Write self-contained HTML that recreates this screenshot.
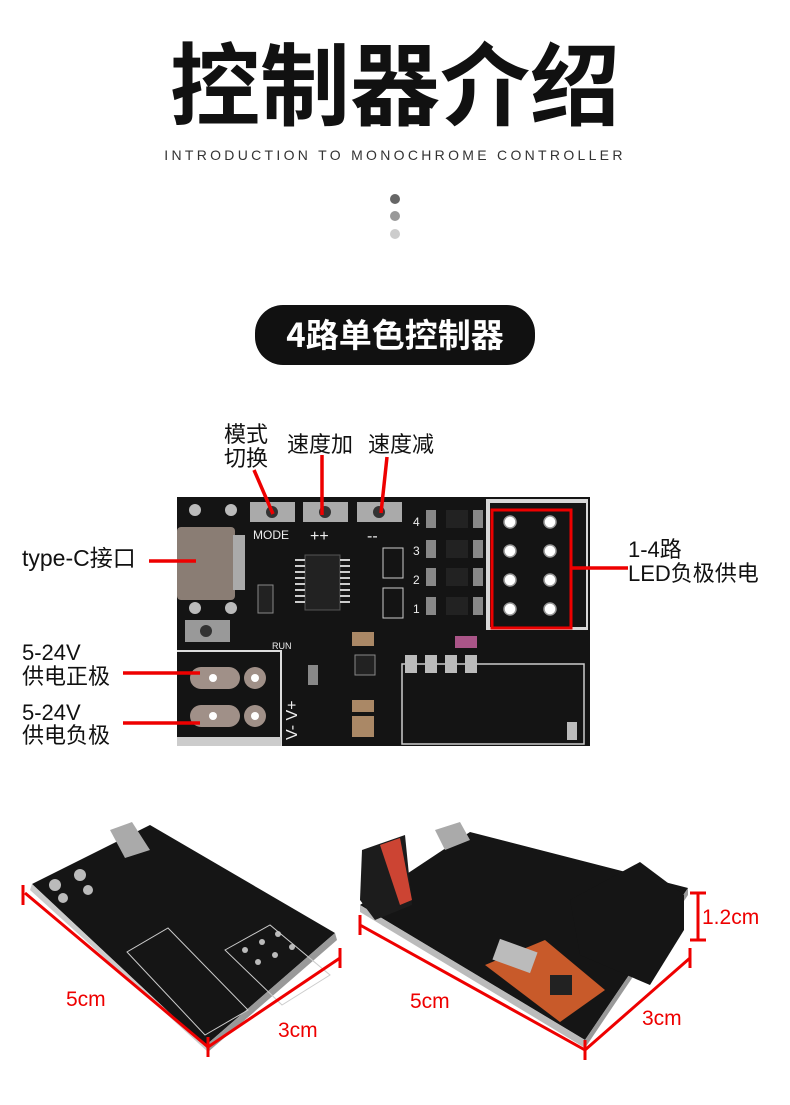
<!DOCTYPE html>
<html><head><meta charset="utf-8"><style>
html,body{margin:0;padding:0;background:#fff;}
svg{display:block;}
text{font-family:"Liberation Sans","Noto Sans CJK SC",sans-serif;}
</style></head><body>
<svg width="790" height="1105" viewBox="0 0 790 1105" xmlns="http://www.w3.org/2000/svg">
<rect width="790" height="1105" fill="#fff"/>
<text x="395" y="118" text-anchor="middle" font-size="90" font-weight="bold" fill="#111" style="font-family:'Noto Sans CJK SC',sans-serif">控制器介绍</text>
<text x="395" y="160" text-anchor="middle" font-size="14" fill="#333" letter-spacing="3.3">INTRODUCTION TO MONOCHROME CONTROLLER</text>
<circle cx="395" cy="199" r="5" fill="#666"/>
<circle cx="395" cy="216" r="5" fill="#999"/>
<circle cx="395" cy="234" r="5" fill="#ccc"/>
<rect x="255" y="305" width="280" height="60" rx="28" fill="#111"/>
<text x="395" y="347" text-anchor="middle" font-size="33" font-weight="bold" fill="#fff" style="font-family:'Noto Sans CJK SC',sans-serif">4路单色控制器</text>

<!-- labels -->
<g font-size="22" fill="#111">
<text x="224" y="442">模式</text><text x="224" y="466">切换</text>
<text x="287" y="452">速度加</text><text x="368" y="452">速度减</text>
<text x="22" y="566" font-size="23">type-C接口</text>
<text x="22" y="660">5-24V</text><text x="22" y="684">供电正极</text>
<text x="22" y="720">5-24V</text><text x="22" y="743">供电负极</text>
<text x="628" y="557">1-4路</text><text x="628" y="581">LED负极供电</text>
</g>

<!-- PCB -->
<rect x="177" y="497" width="413" height="249" fill="#141414"/>
<rect x="486" y="499" width="102" height="131" fill="#d8d8d8"/>
<rect x="490" y="503" width="96" height="124" fill="#141414"/>
<path d="M177 651 H281 V746" stroke="#ddd" stroke-width="2" fill="none"/>
<rect x="177" y="737" width="104" height="9" fill="#ccc"/>
<rect x="402" y="664" width="182" height="80" fill="none" stroke="#ccc" stroke-width="1.5"/>
<rect x="177" y="527" width="58" height="73" fill="#8a7d74" rx="4"/>
<rect x="233" y="535" width="12" height="55" fill="#aaa"/>
<circle cx="195" cy="510" r="6" fill="#bbb"/><circle cx="231" cy="510" r="6" fill="#bbb"/>
<circle cx="195" cy="608" r="6" fill="#bbb"/><circle cx="231" cy="608" r="6" fill="#bbb"/>
<rect x="185" y="620" width="45" height="22" fill="#999"/><circle cx="206" cy="631" r="6" fill="#333"/>
<rect x="250" y="502" width="45" height="20" fill="#aaa"/><circle cx="272" cy="512" r="6" fill="#333"/>
<rect x="303" y="502" width="45" height="20" fill="#aaa"/><circle cx="325" cy="512" r="6" fill="#333"/>
<rect x="357" y="502" width="45" height="20" fill="#aaa"/><circle cx="379" cy="512" r="6" fill="#333"/>
<g fill="#eee" font-size="12"><text x="253" y="539">MODE</text><text x="310" y="541" font-size="16">++</text><text x="367" y="541" font-size="16">--</text>
<text x="413" y="526" font-size="12">4</text><text x="413" y="555">3</text><text x="413" y="584">2</text><text x="413" y="613">1</text>
<text x="272" y="649" font-size="9">RUN</text></g>
<rect x="305" y="555" width="35" height="55" fill="#222" stroke="#555"/>
<g stroke="#ccc" stroke-width="2">
<path d="M295 560h10M295 566h10M295 572h10M295 578h10M295 584h10M295 590h10M295 596h10M295 602h10M340 560h10M340 566h10M340 572h10M340 578h10M340 584h10M340 590h10M340 596h10M340 602h10"/></g>
<g fill="#888">
<rect x="426" y="510" width="10" height="18"/><rect x="426" y="540" width="10" height="18"/><rect x="426" y="568" width="10" height="18"/><rect x="426" y="597" width="10" height="18"/>
<rect x="446" y="510" width="22" height="18" fill="#222"/><rect x="446" y="540" width="22" height="18" fill="#222"/><rect x="446" y="568" width="22" height="18" fill="#222"/><rect x="446" y="597" width="22" height="18" fill="#222"/>
<rect x="473" y="510" width="10" height="18"/><rect x="473" y="540" width="10" height="18"/><rect x="473" y="568" width="10" height="18"/><rect x="473" y="597" width="10" height="18"/>
<rect x="383" y="548" width="20" height="30" fill="none" stroke="#ccc"/><rect x="383" y="588" width="20" height="30" fill="none" stroke="#ccc"/>
<rect x="405" y="655" width="12" height="18" fill="#bbb"/><rect x="425" y="655" width="12" height="18" fill="#bbb"/><rect x="445" y="655" width="12" height="18" fill="#bbb"/><rect x="465" y="655" width="12" height="18" fill="#bbb"/>
<rect x="455" y="636" width="22" height="12" fill="#a58"/>
<rect x="352" y="632" width="22" height="14" fill="#a86"/><rect x="352" y="700" width="22" height="12" fill="#a86"/><rect x="352" y="716" width="22" height="12" fill="#a86"/><rect x="352" y="725" width="22" height="12" fill="#a86"/>
<rect x="355" y="655" width="20" height="20" fill="#222" stroke="#888"/>
<rect x="308" y="665" width="10" height="20"/><rect x="258" y="585" width="15" height="28" fill="#222" stroke="#888"/>
<rect x="567" y="722" width="10" height="18" fill="#bbb"/>
</g>
<g fill="#a09088"><rect x="190" y="667" width="50" height="22" rx="11"/><rect x="190" y="705" width="50" height="22" rx="11"/><circle cx="255" cy="678" r="11"/><circle cx="255" cy="716" r="11"/></g>
<g fill="#fff"><circle cx="213" cy="678" r="4"/><circle cx="213" cy="716" r="4"/><circle cx="255" cy="678" r="4"/><circle cx="255" cy="716" r="4"/></g>
<text x="0" y="0" transform="translate(297,740) rotate(-90)" fill="#eee" font-size="16">V-  V+</text>
<g fill="#fff" stroke="#999" stroke-width="1.5">
<circle cx="510" cy="522" r="6"/><circle cx="550" cy="522" r="6"/>
<circle cx="510" cy="551" r="6"/><circle cx="550" cy="551" r="6"/>
<circle cx="510" cy="580" r="6"/><circle cx="550" cy="580" r="6"/>
<circle cx="510" cy="609" r="6"/><circle cx="550" cy="609" r="6"/>
</g>
<rect x="492" y="510" width="79" height="118" fill="none" stroke="#e00" stroke-width="3"/>

<g stroke="#e00" stroke-width="3.5">
<line x1="254" y1="470" x2="273" y2="514"/>
<line x1="322" y1="455" x2="322" y2="515"/>
<line x1="387" y1="457" x2="381" y2="513"/>
<line x1="149" y1="561" x2="196" y2="561"/>
<line x1="123" y1="673" x2="200" y2="673"/>
<line x1="123" y1="723" x2="200" y2="723"/>
<line x1="571" y1="568" x2="628" y2="568"/>
</g>

<!-- bottom left board -->
<polygon points="32,884 150,825 335,933 205,1046" fill="#151515"/>
<polygon points="32,884 205,1046 208,1052 30,890" fill="#ccc"/>
<polygon points="205,1046 335,933 337,940 208,1052" fill="#999"/>
<polygon points="110,830 132,822 150,850 125,858" fill="#aaa"/>
<g fill="#bbb"><circle cx="55" cy="885" r="6"/><circle cx="80" cy="875" r="6"/><circle cx="63" cy="898" r="5"/><circle cx="88" cy="890" r="5"/>
<circle cx="245" cy="950" r="3"/><circle cx="262" cy="942" r="3"/><circle cx="278" cy="934" r="3"/><circle cx="258" cy="962" r="3"/><circle cx="275" cy="955" r="3"/><circle cx="292" cy="947" r="3"/></g>
<polygon points="127,952 168,928 248,1010 205,1035" fill="none" stroke="#ccc"/>
<polygon points="225,950 270,925 330,975 282,1005" fill="none" stroke="#ccc"/>
<!-- bottom right board -->
<polygon points="360,905 470,832 688,888 585,1040" fill="#151515"/>
<polygon points="360,905 585,1040 585,1048 360,912" fill="#bbb"/>
<polygon points="585,1040 688,888 688,895 585,1048" fill="#999"/>
<polygon points="362,850 405,835 412,905 375,920 360,900" fill="#1c1c1c"/>
<polygon points="380,845 400,838 412,900 400,905" fill="#c43"/>
<polygon points="435,830 460,822 470,840 445,850" fill="#aaa"/>
<polygon points="570,900 640,862 684,895 684,930 650,985 580,955" fill="#151515"/>
<polygon points="485,965 545,940 605,990 560,1022" fill="#c85a2a"/>
<rect x="495" y="945" width="40" height="22" fill="#bbb" transform="rotate(20 515 956)"/>
<rect x="550" y="975" width="22" height="20" fill="#222"/>

<g stroke="#e00" stroke-width="3" fill="none">
<line x1="25" y1="893" x2="208" y2="1047"/>
<line x1="208" y1="1047" x2="340" y2="958"/>
<line x1="23" y1="885" x2="23" y2="905"/>
<line x1="208" y1="1037" x2="208" y2="1057"/>
<line x1="340" y1="948" x2="340" y2="968"/>
<line x1="360" y1="925" x2="585" y2="1050"/>
<line x1="585" y1="1050" x2="690" y2="958"/>
<line x1="360" y1="915" x2="360" y2="935"/>
<line x1="585" y1="1040" x2="585" y2="1060"/>
<line x1="690" y1="948" x2="690" y2="968"/>
<line x1="698" y1="893" x2="698" y2="940"/>
<line x1="690" y1="893" x2="706" y2="893"/>
<line x1="690" y1="940" x2="706" y2="940"/>
</g>
<g fill="#e00" font-size="21">
<text x="66" y="1006">5cm</text><text x="278" y="1037">3cm</text>
<text x="410" y="1008">5cm</text><text x="642" y="1025">3cm</text>
<text x="702" y="924">1.2cm</text>
</g>
</svg>
</body></html>
